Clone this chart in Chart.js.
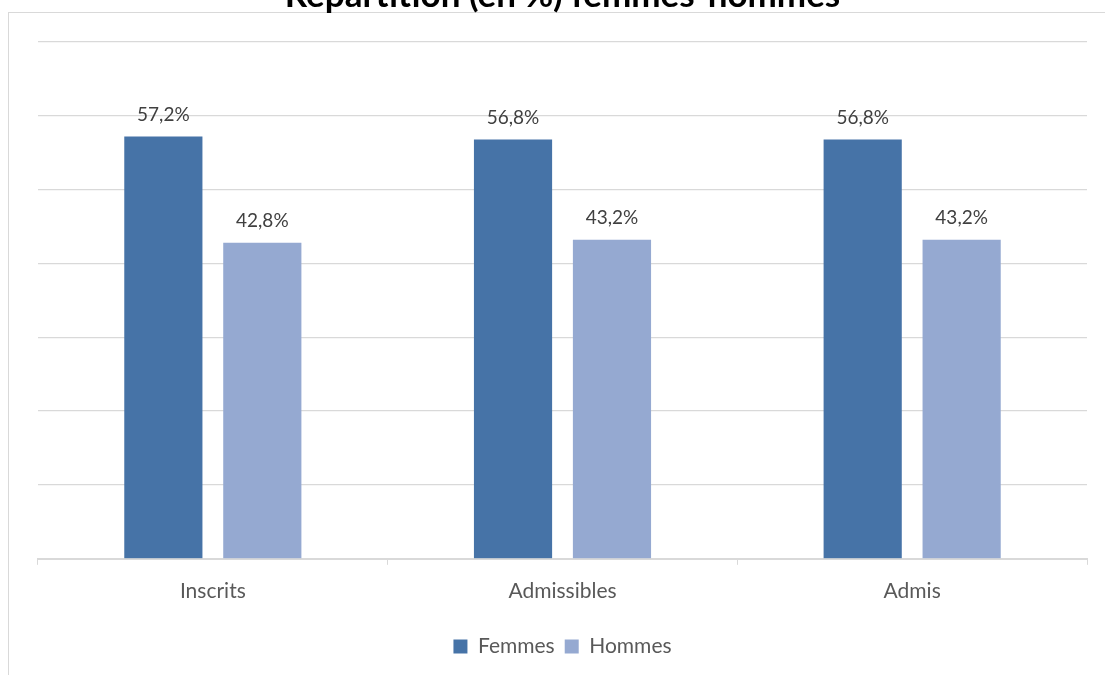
<!DOCTYPE html>
<html lang="fr">
<head>
    <meta charset="UTF-8">
    <title>Répartition (en %) femmes-hommes</title>
    <script src="https://cdn.jsdelivr.net/npm/chart.js"></script>
    <style>
        html, body { margin: 0; padding: 0; overflow: hidden; background: #fff; }
        body { width: 1105px; height: 675px; position: relative; }
        #frame {
            position: absolute; left: 8px; top: 12px; right: -20px; bottom: -20px;
            border-left: 1px solid #d9d9d9; border-top: 1px solid #d9d9d9;
        }
        #wrap { position: absolute; left: 0; top: -40px; width: 1105px; height: 715px; }
    </style>
</head>
<body>
    <div id="frame"></div>
    <div id="wrap">
        <canvas id="myChart" aria-label="chart" role="img" width="1105" height="715"></canvas>
    </div>

    <script>
        // Data
        const categories = ['Inscrits', 'Admissibles', 'Admis'];
        const femmes = [57.2, 56.8, 56.8];
        const hommes = [42.8, 43.2, 43.2];
        const yTicks = [0, 10, 20, 30, 40, 50, 60, 70];

        const textFont = 'Lato, "Open Sans", sans-serif';

        // Draw the value above each bar, french decimal comma
        const valueLabels = {
            id: 'valueLabels',
            afterDatasetsDraw(chart) {
                const ctx = chart.ctx;
                ctx.save();
                ctx.font = '19px ' + textFont;
                ctx.fillStyle = '#404040';
                ctx.textAlign = 'center';
                ctx.textBaseline = 'middle';
                chart.data.datasets.forEach((ds, i) => {
                    chart.getDatasetMeta(i).data.forEach((bar, j) => {
                        const txt = ds.data[j].toFixed(1).replace('.', ',') + '%';
                        ctx.fillText(txt, bar.x, bar.y - 22);
                    });
                });
                ctx.restore();
            }
        };

        const ctx = document.getElementById('myChart').getContext('2d');
        new Chart(ctx, {
            type: 'bar',
            data: {
                labels: categories,
                datasets: [{
                    label: 'Femmes',
                    data: femmes,
                    backgroundColor: '#4673a7',
                    categoryPercentage: 0.566,
                    barPercentage: 0.79
                }, {
                    label: 'Hommes',
                    data: hommes,
                    backgroundColor: '#95a9d1',
                    categoryPercentage: 0.566,
                    barPercentage: 0.79
                }]
            },
            options: {
                responsive: false,
                animation: false,
                layout: { padding: { left: 38, right: 18, top: 0, bottom: 8 } },
                plugins: {
                    title: {
                        display: true,
                        text: 'Répartition (en %) femmes-hommes',
                        color: '#000',
                        font: { family: textFont, size: 35, weight: 'bold' },
                        padding: { top: 15, bottom: 25 }
                    },
                    legend: {
                        position: 'bottom',
                        labels: {
                            color: '#595959',
                            font: { family: textFont, size: 21 },
                            boxWidth: 14,
                            boxHeight: 14,
                            padding: 10
                        }
                    },
                    tooltip: { enabled: false }
                },
                scales: {
                    x: {
                        grid: {
                            display: true,
                            drawOnChartArea: false,
                            offset: true,
                            tickLength: 6,
                            color: '#d9d9d9'
                        },
                        border: { display: true, color: '#d9d9d9', width: 2 },
                        ticks: {
                            color: '#595959',
                            font: { family: textFont, size: 21 },
                            padding: 14
                        },
                        afterFit(scale) {
                            scale.height += 8;
                        }
                    },
                    y: {
                        min: yTicks[0],
                        max: yTicks[yTicks.length - 1],
                        afterBuildTicks(axis) {
                            axis.ticks = yTicks.map(v => ({ value: v }));
                        },
                        ticks: { display: false },
                        grid: { color: '#d9d9d9', lineWidth: 1.3, drawTicks: false },
                        border: { display: false }
                    }
                }
            },
            plugins: [valueLabels]
        });
    </script>
</body>
</html>
